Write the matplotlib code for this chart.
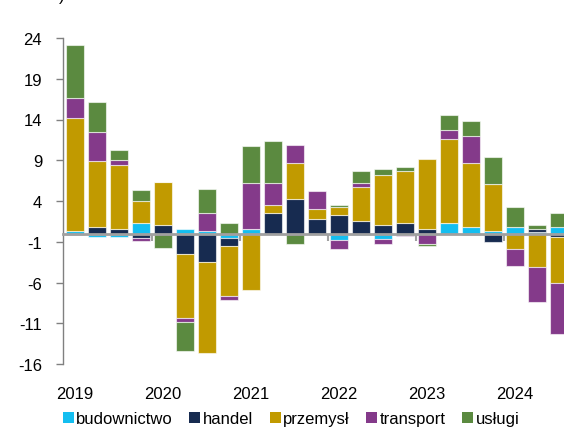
import numpy as np
import matplotlib
matplotlib.use("Agg")
import matplotlib.pyplot as plt
from matplotlib.patches import Patch
from matplotlib.transforms import blended_transform_factory

plt.rcParams['font.family'] = ['Liberation Sans', 'DejaVu Sans']
plt.rcParams['axes.unicode_minus'] = False

# Quarterly contributions, 2019Q1 .. 2024Q3
years = ['2019', '2020', '2021', '2022', '2023', '2024']
series = ['budownictwo', 'handel', 'przemysł', 'transport', 'usługi']
colors = ['#14bef0', '#172b50', '#c19a00', '#843a8a', '#5b8a40']

budownictwo = [0.3, -0.4, -0.4, 1.3, 0.0, 0.58, 0.34, -0.6, 0.58, 0.0, 0.0, 0.0,
               -0.84, -0.15, -0.63, -0.2, 0.0, 1.32, 0.83, 0.34, 0.83, 0.25, 0.83]
handel = [-0.15, 0.83, 0.6, -0.6, 1.07, -2.55, -3.5, -0.97, 0.0, 2.54, 4.24, 1.8,
          2.3, 1.56, 1.07, 1.32, 0.58, 0.0, -0.15, -1.04, 0.0, 0.3, -0.4]
przemysl = [13.9, 8.05, 7.8, 2.7, 5.3, -7.85, -11.1, -6.1, -6.9, 0.97, 4.4, 1.2,
            0.97, 4.15, 6.1, 6.34, 8.54, 10.24, 7.8, 5.73, -1.85, -4.05, -5.6]
transport = [2.4, 3.57, 0.65, -0.25, 0.0, -0.45, 2.2, -0.45, 5.6, 2.7, 2.2, 2.2,
             -1.0, 0.5, -0.7, -0.15, -1.33, 1.14, 3.33, 0.0, -2.1, -4.3, -6.26]
uslugi = [6.6, 3.75, 1.25, 1.4, -1.8, -3.6, 2.9, 1.3, 4.6, 5.1, -1.33, -0.1,
          0.23, 1.46, 0.73, 0.5, -0.24, 1.8, 1.8, 3.3, 2.44, 0.5, 1.7]

data = [budownictwo, handel, przemysl, transport, uslugi]
yticks = [24, 19, 14, 9, 4, -1, -6, -11, -16]

n = len(budownictwo)
x = np.arange(n)

fig = plt.figure(figsize=(5.64, 4.31), dpi=100)
# axes run past the right edge on purpose, last bar is cut like in the source
ax = fig.add_axes([63 / 564, 66 / 431, 529 / 564, 326 / 431])

pos_base = np.zeros(n)
neg_base = np.zeros(n)
for vals, c in zip(data, colors):
    v = np.array(vals)
    bottom = np.where(v >= 0, pos_base, neg_base)
    ax.bar(x, v, bottom=bottom, width=0.8, color=c,
           edgecolor=(1, 1, 1, 0.6), linewidth=0.8, zorder=1)
    pos_base += np.clip(v, 0, None)
    neg_base += np.clip(v, None, 0)

ax.set_xlim(-0.55, 23.5)
ax.set_ylim(-16, 24)
ax.set_yticks(yticks)
ax.tick_params(axis='y', labelsize=12, length=5, width=1, color='#808080', pad=10)

# category axis sits on zero, ticks at year boundaries
ax.spines['bottom'].set_position(('data', 0))
ax.spines['bottom'].set_color('#a0a0a0')
ax.spines['bottom'].set_linewidth(2)
ax.spines['bottom'].set_zorder(3)
ax.set_xticks(np.arange(3.5, n, 4))
ax.set_xticklabels([])
ax.tick_params(axis='x', length=5, width=1.5, color='#a0a0a0', direction='out')

ax.spines['left'].set_color('#808080')
ax.spines['left'].set_linewidth(1)
ax.spines['top'].set_visible(False)
ax.spines['right'].set_visible(False)

trans = blended_transform_factory(ax.transData, ax.transAxes)
for i, yr in enumerate(years):
    ax.text(i * 4, -0.09, yr, transform=trans, ha='center', va='center', fontsize=12)

handles = [Patch(facecolor=c, edgecolor='none') for c in colors]
fig.legend(handles, series, loc='center', bbox_to_anchor=(291 / 564, 1 - 420 / 431),
           ncol=5, frameon=False, fontsize=12, handlelength=0.65, handleheight=0.65,
           handletextpad=0.15, columnspacing=1.0, borderpad=0)

fig.text(62 / 564, 1 + 4 / 431, ')', ha='center', va='center', fontsize=12)

fig.savefig('out.png', dpi=100)
